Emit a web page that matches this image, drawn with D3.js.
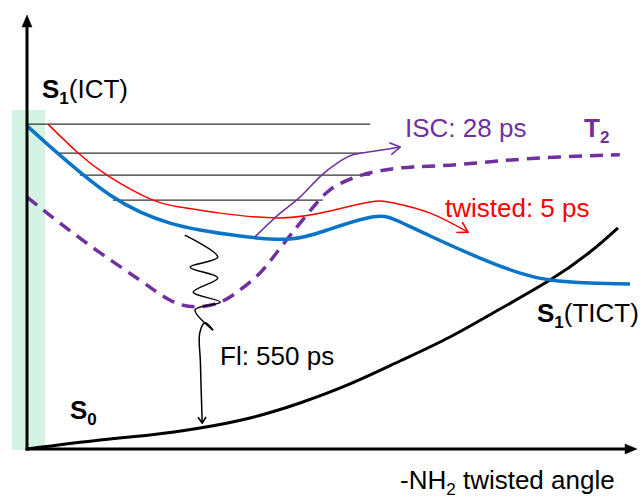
<!DOCTYPE html>
<html>
<head>
<meta charset="utf-8">
<script src="https://cdn.jsdelivr.net/npm/d3@7"></script>
<style>
  body { margin: 0; background: #fff; }
  svg { display: block; font-family: Arial, "Liberation Sans", sans-serif; }
</style>
</head>
<body>
<svg id="diagram" width="644" height="499"></svg>
<script>
// energy (0-100, arbitrary) vs -NH2 twist (0-100, arbitrary)
var s1Curve = [[0,74.8],[4.67,69.0],[8.83,64.1],[13.83,58.8],[18.83,54.9],[23.83,52.3],[28.83,50.7],
  [35.5,49.3],[43.83,48.6],[50.5,50.9],[57.5,53.7],[61.5,53.0],[67.2,49.3],[75.5,44.2],[82.2,40.7],
  [87.2,39.1],[93.8,38.4],[100.5,38.2]];
var twistPath = [[3.5,75.2],[8.33,68.75],[13.33,63.4],[20.5,57.9],[25.5,56.0],[32.2,54.6],[42.2,53.5],
  [50.5,55.1],[57.2,57.2],[61.3,56.9],[67.2,54.6],[73.5,50.2]];
var t2Curve = [[0,58.3],[5.5,52.3],[12.2,45.4],[18.8,39.1],[23.8,34.5],[28,32.9],[32.2,34.0],[35.5,36.8],
  [38.8,40.7],[41.7,45.6],[45,51.4],[47.7,56.0],[50.5,60.0],[54.3,62.7],[58.8,64.4],[64.3,65.3],
  [70.5,65.7],[78.8,66.7],[88.8,67.6],[98.8,68.1]];
var iscPath = [[38,49.1],[42.2,54.6],[45.5,58.3],[48.8,63.0],[51.7,66.2],[54.3,68.1],[57.2,68.8],[62.2,69.9]];
var s0Curve = [[0,0],[12.17,2.08],[20.5,3.24],[28.83,4.86],[37.17,7.18],[45.5,10.65],[53.83,15.05],
  [62.17,20.37],[70.5,25.93],[78.83,32.4],[87.17,39.1],[93.83,45.6],[98.5,51.2]];
var relaxWave = [[26.3,49.5],[31.8,44.4],[27.2,42.1],[31.8,39.6],[27.7,36.3],[32.2,34.0],[28,32.2],[31,27.5]];
var flPath = [[31,27.5],[29.7,29.2],[28.8,26.9],[28.9,20],[29.2,6.0]];
var levels = [
  {e: 75.2, from: 0, to: 57.2},
  {e: 68.5, from: 5, to: 55.8},
  {e: 63.4, from: 8.8, to: 57.2},
  {e: 57.6, from: 14.3, to: 49.3}
];
var franckCondon = {from: -2.5, to: 3, top: 78.5};

var svg = d3.select("svg#diagram");

var x = d3.scaleLinear().domain([0, 100]).range([27, 627]);
var y = d3.scaleLinear().domain([0, 100]).range([449, 17]);

var line = d3.line()
    .x(function(d) { return x(d[0]); })
    .y(function(d) { return y(d[1]); })
    .curve(d3.curveNatural);

var wavy = d3.line()
    .x(function(d) { return x(d[0]); })
    .y(function(d) { return y(d[1]); })
    .curve(d3.curveCatmullRom.alpha(0.5));

var defs = svg.append("defs");
function mkMarker(id, w, h, ref, color, filled) {
  defs.append("marker")
      .attr("id", id)
      .attr("markerUnits", "userSpaceOnUse")
      .attr("viewBox", "-1 -1 " + (w + 2) + " " + (h + 2))
      .attr("markerWidth", w + 2)
      .attr("markerHeight", h + 2)
      .attr("refX", ref)
      .attr("refY", h / 2)
      .attr("orient", "auto")
    .append("path")
      .attr("d", "M0,0L" + w + "," + (h / 2) + "L0," + h + (filled ? "Z" : ""))
      .attr("fill", filled ? color : "none")
      .attr("stroke", color)
      .attr("stroke-width", filled ? 0.5 : 1.6)
      .attr("stroke-linejoin", "miter");
}
mkMarker("axisHead", 12, 10, 8, "#000", true);
mkMarker("redHead", 10, 12, 10, "#ff0000", false);
mkMarker("purpleHead", 10, 12, 10, "#7030a0", false);
mkMarker("blackHead", 6, 8, 6, "#000", false);

// Franck-Condon region
svg.append("rect")
    .attr("x", x(franckCondon.from))
    .attr("y", y(franckCondon.top))
    .attr("width", x(franckCondon.to) - x(franckCondon.from))
    .attr("height", y(0) - y(franckCondon.top) + 1)
    .attr("fill", "#d3f4e2");

// vibrational levels
svg.append("g").selectAll("line")
  .data(levels)
  .enter().append("line")
    .attr("x1", function(d) { return x(d.from); })
    .attr("x2", function(d) { return x(d.to); })
    .attr("y1", function(d) { return y(d.e); })
    .attr("y2", function(d) { return y(d.e); })
    .attr("stroke", "#333")
    .attr("stroke-width", 1.2);

svg.append("path").datum(s0Curve)
    .attr("d", line).attr("fill", "none")
    .attr("stroke", "#000").attr("stroke-width", 3);

svg.append("path").datum(t2Curve)
    .attr("d", line).attr("fill", "none")
    .attr("stroke", "#7030a0").attr("stroke-width", 3.5)
    .attr("stroke-dasharray", "13,8");

svg.append("path").datum(twistPath)
    .attr("d", line).attr("fill", "none")
    .attr("stroke", "#ff0000").attr("stroke-width", 1.5)
    .attr("marker-end", "url(#redHead)");

svg.append("path").datum(s1Curve)
    .attr("d", line).attr("fill", "none")
    .attr("stroke", "#0a74c8").attr("stroke-width", 3.5);

svg.append("path").datum(iscPath)
    .attr("d", line).attr("fill", "none")
    .attr("stroke", "#7030a0").attr("stroke-width", 1.5)
    .attr("marker-end", "url(#purpleHead)");

svg.append("path").datum(relaxWave)
    .attr("d", wavy).attr("fill", "none")
    .attr("stroke", "#000").attr("stroke-width", 1.5);

svg.append("path").datum(flPath)
    .attr("d", wavy).attr("fill", "none")
    .attr("stroke", "#000").attr("stroke-width", 1.5)
    .attr("marker-end", "url(#blackHead)");

// axes
svg.append("line")
    .attr("x1", x(0)).attr("y1", y(0) + 1.5)
    .attr("x2", x(0)).attr("y2", y(100) + 2)
    .attr("stroke", "#000").attr("stroke-width", 3)
    .attr("marker-end", "url(#axisHead)");
svg.append("line")
    .attr("x1", x(0) - 1.5).attr("y1", y(0))
    .attr("x2", x(100) + 6).attr("y2", y(0))
    .attr("stroke", "#000").attr("stroke-width", 3)
    .attr("marker-end", "url(#axisHead)");

// labels
function label(px, py, color, parts) {
  var t = svg.append("text")
      .attr("x", px).attr("y", py)
      .attr("fill", color)
      .attr("font-size", 26);
  parts.forEach(function(p) {
    var s = t.append("tspan").text(p.t);
    if (p.b) s.attr("font-weight", "bold");
    if (p.sub) s.attr("font-size", 17).attr("dy", 6);
    if (p.up) s.attr("dy", -6);
  });
  return t;
}
label(42, 98, "#000", [{t: "S", b: 1}, {t: "1", b: 1, sub: 1}, {t: "(ICT)", up: 1}]);
label(405, 137, "#7030a0", [{t: "ISC: 28 ps"}]);
label(584, 137, "#7030a0", [{t: "T", b: 1}, {t: "2", b: 1, sub: 1}]);
label(445, 217, "#ff0000", [{t: "twisted: 5 ps"}]);
label(537, 322, "#000", [{t: "S", b: 1}, {t: "1", b: 1, sub: 1}, {t: "(TICT)", up: 1}]);
label(220, 365, "#000", [{t: "Fl: 550 ps"}]);
label(70, 419, "#000", [{t: "S", b: 1}, {t: "0", b: 1, sub: 1}]);
label(400, 489, "#000", [{t: "-NH"}, {t: "2", sub: 1}, {t: " twisted angle", up: 1}]);
</script>
</body>
</html>
